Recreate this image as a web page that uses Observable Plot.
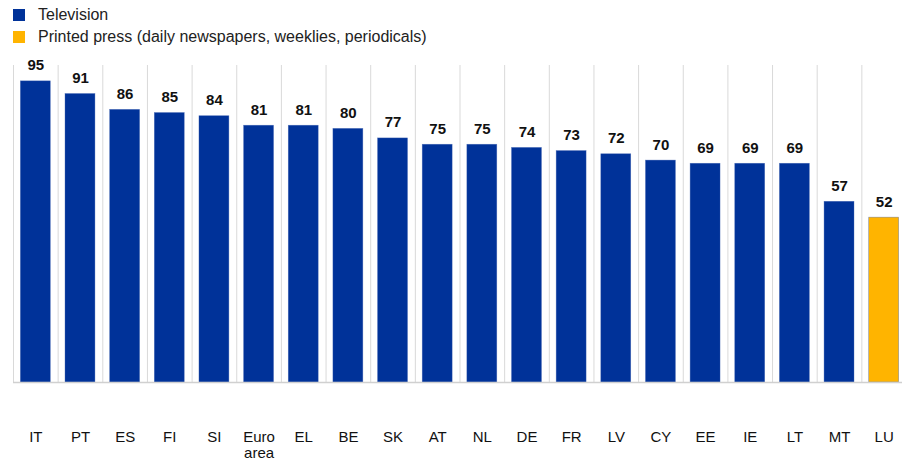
<!DOCTYPE html>
<html><head><meta charset="utf-8">
<script src="https://cdn.jsdelivr.net/npm/d3@7"></script>
<script src="https://cdn.jsdelivr.net/npm/@observablehq/plot@0.6"></script>
<style>
body{margin:0;background:#fff;font-family:"Liberation Sans",Arial,sans-serif;}
#legend{height:50px;padding:0;position:relative;}
.item{position:absolute;left:13px;display:flex;align-items:center;font-size:16px;color:#222;line-height:18px;}
.sw{width:12px;height:12px;margin-right:13px;}
svg{display:block;}
</style></head><body>
<div id="legend"></div>
<div id="chart"></div>
<script>
const categories = ["IT","PT","ES","FI","SI","Euro area","EL","BE","SK","AT","NL","DE","FR","LV","CY","EE","IE","LT","MT","LU"];
const values = [95,91,86,85,84,81,81,80,77,75,75,74,73,72,70,69,69,69,57,52];
const media = ["Television","Television","Television","Television","Television","Television","Television","Television","Television","Television","Television","Television","Television","Television","Television","Television","Television","Television","Television","Printed press (daily newspapers, weeklies, periodicals)"];
const seriesNames = ["Television","Printed press (daily newspapers, weeklies, periodicals)"];
const seriesColors = ["#003299","#FFB400"];

const data = categories.map((c,i)=>({cat:c, value:values[i], media:media[i]}));

const leg = document.getElementById("legend");
seriesNames.forEach((s,i)=>{
  const d = document.createElement("div");
  d.className="item"; d.style.top = (i===0? 6 : 28)+"px";
  d.innerHTML = `<span class="sw" style="background:${seriesColors[i]}"></span><span>${s}</span>`;
  leg.appendChild(d);
});

const W = 902, H = 411;
const step = (W + 4 - 13) / categories.length;
const chart = Plot.plot({
  width: W, height: H,
  marginLeft: 13, marginRight: -4, marginTop: 15, marginBottom: 79,
  style: {fontFamily: '"Liberation Sans",Arial,sans-serif', fontSize: "15px", color: "#222", overflow: "visible"},
  x: {domain: categories, paddingInner: 0.33, paddingOuter: 0.165, round: false, label: null},
  y: {domain: [0,100], axis: null},
  color: {domain: seriesNames, range: seriesColors},
  marks: [
    Plot.ruleX(categories, {x: d=>d, dx: -step/2, y1: 0, y2: 100, stroke: "#d9d9d9", strokeWidth: 1}),
    Plot.barY(data, {x: "cat", y: "value", fill: "media", stroke: "#3a5fb0", strokeWidth: 0.6, strokeOpacity: 0.6}),
    Plot.ruleY([0], {stroke: "#d0d0d0", strokeWidth: 1.5}),
    Plot.text(data, {x: "cat", y: "value", text: d=>String(d.value), lineAnchor: "bottom", dy: -11, fontWeight: "bold", fontSize: 15, fill: "#111"}),
    Plot.axisX({tickSize: 0, tickPadding: 49, tickFormat: d => d === "Euro area" ? "Euro\narea" : d, fontSize: 15, lineHeight: 1.02, label: null, fill: "#111"})
  ]
});
document.getElementById("chart").appendChild(chart);
</script>
</body></html>
